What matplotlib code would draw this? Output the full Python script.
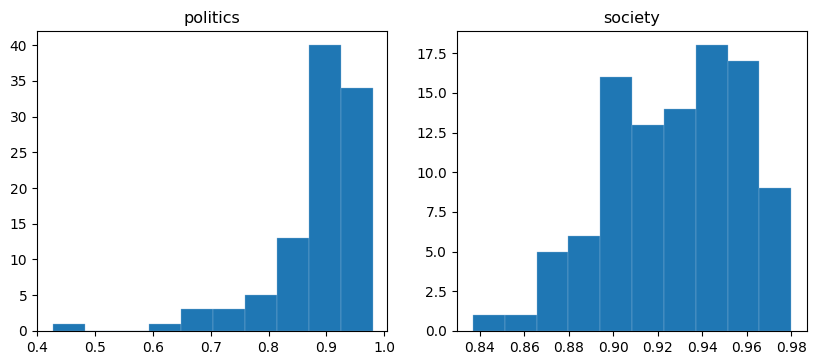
import numpy as np
import matplotlib
matplotlib.use("Agg")
import matplotlib.pyplot as plt

politics_counts = [1, 0, 0, 1, 3, 3, 5, 13, 40, 34]
politics_range = (0.428, 0.980)
society_counts = [1, 1, 5, 6, 16, 13, 14, 18, 17, 9]
society_range = (0.837, 0.980)
titles = ["politics", "society"]

fig = plt.figure(figsize=(8.22, 3.64), dpi=100)
ax1 = fig.add_axes([0.045, 0.091, 0.426, 0.824])
ax2 = fig.add_axes([0.556, 0.091, 0.426, 0.824])

for ax, counts, rng, title in [(ax1, politics_counts, politics_range, titles[0]),
                               (ax2, society_counts, society_range, titles[1])]:
    edges = np.linspace(rng[0], rng[1], len(counts) + 1)
    ax.hist(edges[:-1], bins=edges, weights=counts, color="#1f77b4",
            edgecolor="#8fb8dc", linewidth=0.25)
    ax.set_title(title, fontsize=11.5)
    ax.tick_params(labelsize=10)

ax1.set_xticks([0.4, 0.5, 0.6, 0.7, 0.8, 0.9, 1.0])
ax1.set_xlim(0.4, 1.005)
ax2.set_xticks([0.84, 0.86, 0.88, 0.90, 0.92, 0.94, 0.96, 0.98])
ax2.set_xticklabels(["0.84", "0.86", "0.88", "0.90", "0.92", "0.94", "0.96", "0.98"])

fig.savefig("out.png", dpi=100)
